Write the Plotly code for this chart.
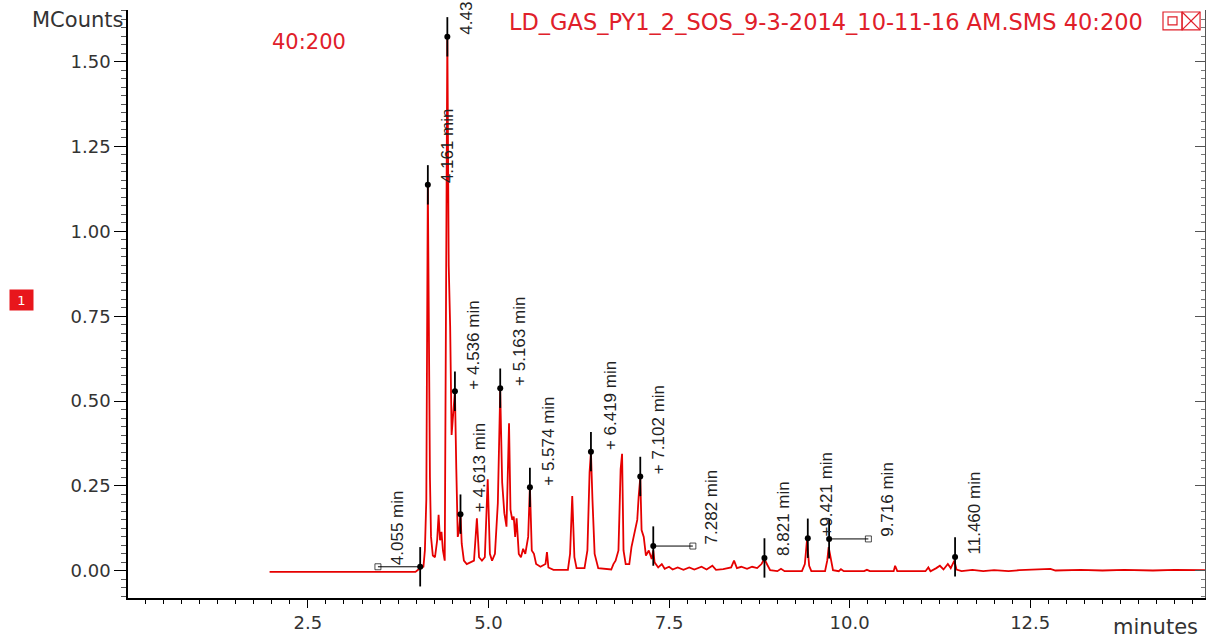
import plotly.graph_objects as go

# ---- chromatogram (retention time in minutes, intensity in MCounts) ----
rt = [1.97, 3.99, 4.03, 4.06, 4.10, 4.12, 4.14, 4.161, 4.175, 4.19, 4.205, 4.23, 4.26, 4.29, 4.31,
      4.33, 4.35, 4.37, 4.395, 4.415, 4.431, 4.45, 4.47, 4.49, 4.51, 4.536, 4.555, 4.575, 4.595,
      4.613, 4.63, 4.66, 4.70, 4.76, 4.80, 4.84, 4.87, 4.91, 4.95, 4.99, 5.02, 5.05, 5.09, 5.13,
      5.163, 5.19, 5.22, 5.25, 5.27, 5.285, 5.305, 5.33, 5.35, 5.37, 5.39, 5.42, 5.45, 5.48, 5.51,
      5.55, 5.574, 5.60, 5.63, 5.66, 5.72, 5.79, 5.81, 5.83, 5.90, 6.10, 6.13, 6.16, 6.19, 6.22,
      6.33, 6.37, 6.40, 6.419, 6.44, 6.47, 6.52, 6.70, 6.73, 6.76, 6.80, 6.83, 6.85, 6.87, 6.90,
      6.95, 6.98, 7.02, 7.06, 7.08, 7.102, 7.12, 7.15, 7.18, 7.22, 7.26, 7.282, 7.30, 7.35, 7.40,
      7.44, 7.50, 7.55, 7.62, 7.70, 7.78, 7.85, 7.95, 8.02, 8.10, 8.15, 8.25, 8.36, 8.40, 8.44,
      8.50, 8.58, 8.65, 8.72, 8.78, 8.82, 8.86, 8.90, 9.00, 9.05, 9.10, 9.34, 9.38, 9.41, 9.44,
      9.47, 9.66, 9.69, 9.71, 9.74, 9.77, 9.85, 9.88, 9.92, 10.20, 10.24, 10.28, 10.61, 10.63,
      10.66, 11.05, 11.09, 11.12, 11.20, 11.25, 11.30, 11.36, 11.40, 11.45, 11.48, 11.55, 11.70,
      11.85, 12.00, 12.20, 12.35, 12.60, 12.78, 12.85, 13.20, 13.50, 13.80, 14.20, 14.50, 14.92]
counts = [-0.003, -0.003, 0.004, 0.008, 0.012, 0.06, 0.21, 1.14, 0.50, 0.275, 0.10, 0.045, 0.04, 0.09, 0.165,
          0.09, 0.115, 0.06, 0.03, 0.80, 1.58, 0.90, 0.72, 0.40, 0.45, 0.53, 0.30, 0.10, 0.12,
          0.17, 0.08, 0.03, 0.02, 0.025, 0.03, 0.155, 0.04, 0.03, 0.04, 0.27, 0.05, 0.03, 0.05, 0.20,
          0.53, 0.26, 0.17, 0.13, 0.30, 0.435, 0.18, 0.15, 0.16, 0.10, 0.155, 0.05, 0.04, 0.065, 0.05,
          0.10, 0.25, 0.06, 0.05, 0.02, 0.012, 0.02, 0.055, 0.01, 0.003, 0.003, 0.05, 0.22, 0.04, 0.008,
          0.008, 0.06, 0.29, 0.35, 0.21, 0.05, 0.008, 0.004, 0.02, 0.03, 0.06, 0.30, 0.345, 0.06, 0.02,
          0.02, 0.07, 0.11, 0.15, 0.22, 0.275, 0.12, 0.10, 0.045, 0.06, 0.035, 0.06, 0.025, 0.01, 0.02,
          0.006, 0.012, 0.004, 0.01, 0.003, 0.01, 0.004, 0.012, 0.004, 0.015, 0.003, 0.005, 0.01, 0.03, 0.008,
          0.012, 0.006, 0.012, 0.008, 0.02, 0.035, 0.018, 0.002, -0.001, 0.006, -0.001, -0.001, 0.02, 0.09, 0.015,
          -0.001, -0.001, 0.03, 0.07, 0.035, 0.002, -0.001, 0.005, -0.001, -0.001, 0.003, -0.001, -0.001, 0.015,
          -0.001, -0.001, 0.01, -0.001, 0.008, 0.015, 0.004, 0.02, 0.008, 0.03, 0.004, -0.001, 0.003,
          -0.001, 0.002, -0.001, 0.002, 0.004, 0.006, 0.001, 0.003, 0.001, 0.003, 0.001, 0.003, 0.002]

# ---- labelled peaks ----
peak_rt = [4.055, 4.161, 4.431, 4.536, 4.613, 5.163, 5.574, 6.419, 7.102, 7.282, 8.821, 9.421, 9.716, 11.460]
peak_y = [0.012, 1.137, 1.573, 0.529, 0.167, 0.538, 0.246, 0.351, 0.278, 0.073, 0.038, 0.096, 0.094, 0.041]
peak_labels = ["4.055 min", "4.161 min", "4.43", "+ 4.536 min", "+ 4.613 min", "+ 5.163 min",
               "+ 5.574 min", "+ 6.419 min", "+ 7.102 min", "7.282 min", "8.821 min", "+9.421 min",
               "9.716 min", "11.460 min"]
# label anchor times (leader-line end where a leader exists)
label_rt = [3.47, 4.161, 4.431, 4.536, 4.613, 5.163, 5.574, 6.419, 7.102, 7.83, 8.821, 9.421, 10.26, 11.460]

x_ticks = [2.5, 5.0, 7.5, 10.0, 12.5]
y_ticks = [0.0, 0.25, 0.5, 0.75, 1.0, 1.25, 1.5]

RED = "#e60000"
fig = go.Figure()

fig.add_trace(go.Scatter(x=rt, y=counts, mode="lines",
                         line=dict(color=RED, width=1.8), showlegend=False, hoverinfo="skip"))

# leader lines
for pr, py, lr in zip(peak_rt, peak_y, label_rt):
    if abs(lr - pr) > 0.05:
        fig.add_trace(go.Scatter(x=[pr, lr], y=[py, py], mode="lines+markers",
                                 line=dict(color="black", width=1),
                                 marker=dict(symbol=["circle", "square-open"], size=[1, 6], color="black"),
                                 showlegend=False, hoverinfo="skip"))

# peak markers with vertical ticks
fig.add_trace(go.Scatter(x=peak_rt, y=peak_y, mode="markers",
                         marker=dict(color="black", size=6),
                         error_y=dict(type="constant", value=0.058, color="black", thickness=1.8, width=0),
                         showlegend=False, hoverinfo="skip"))

annotations = []
for lr, py, lab in zip(label_rt, peak_y, peak_labels):
    annotations.append(dict(x=lr, y=py, xref="x", yref="y", text=lab, textangle=-90,
                            showarrow=False, xanchor="center", yanchor="bottom", xshift=19,
                            font=dict(family="Liberation Sans, Arial", size=17, color="#222222")))

annotations += [
    dict(x=0.944, y=0.98, xref="paper", yref="paper", xanchor="right", yanchor="middle", showarrow=False,
         text="LD_GAS_PY1_2_SOS_9-3-2014_10-11-16 AM.SMS 40:200",
         font=dict(family="DejaVu Sans", size=22.5, color="#e0202a")),
    dict(x=0.132, y=0.946, xref="paper", yref="paper", xanchor="left", yanchor="middle", showarrow=False,
         text="40:200", font=dict(family="DejaVu Sans", size=21, color="#e0202a")),
    dict(x=-0.003, y=0.983, xref="paper", yref="paper", xanchor="right", yanchor="middle", showarrow=False,
         text="MCounts", font=dict(family="DejaVu Sans", size=21, color="#333333")),
    dict(x=0.9954, y=-0.049, xref="paper", yref="paper", xanchor="right", yanchor="middle", showarrow=False,
         text="minutes", font=dict(family="DejaVu Sans", size=21, color="#333333")),
    dict(x=-0.0993, y=0.506, xref="paper", yref="paper", xanchor="center", yanchor="middle", showarrow=False,
         text="1", bgcolor="#e8161c", borderpad=0, width=23, height=20,
         font=dict(family="DejaVu Sans", size=13, color="white")),
]

shapes = [
    dict(type="rect", xref="paper", yref="paper", x0=0.961, x1=0.9787, y0=0.9663, y1=0.9966,
         line=dict(color="#e0202a", width=1.2)),
    dict(type="rect", xref="paper", yref="paper", x0=0.9787, x1=0.9954, y0=0.9663, y1=0.9966,
         line=dict(color="#e0202a", width=1.2)),
    dict(type="rect", xref="paper", yref="paper", x0=0.9657, x1=0.9740, y0=0.9747, y1=0.9882,
         line=dict(color="#e0202a", width=1.2)),
    dict(type="line", xref="paper", yref="paper", x0=0.9787, x1=0.9954, y0=0.9663, y1=0.9966,
         line=dict(color="#e0202a", width=1.2)),
    dict(type="line", xref="paper", yref="paper", x0=0.9787, x1=0.9954, y0=0.9966, y1=0.9663,
         line=dict(color="#e0202a", width=1.2)),
]

tickfont = dict(family="DejaVu Sans", size=18, color="#333333")
fig.update_layout(
    width=1219, height=643,
    margin=dict(l=128, r=14, t=10, b=40),
    paper_bgcolor="white", plot_bgcolor="white",
    showlegend=False,
    annotations=annotations, shapes=shapes,
    xaxis=dict(range=[0.01, 14.92], showgrid=False, zeroline=False,
               showline=True, linecolor="black", linewidth=1.5,
               tickmode="array", tickvals=x_ticks, ticktext=[f"{v:.1f}" for v in x_ticks],
               ticks="outside", ticklen=8, tickwidth=1.2, tickcolor="black", tickfont=tickfont,
               minor=dict(dtick=0.25, tick0=0, ticks="outside", ticklen=4, tickwidth=1, tickcolor="black")),
    yaxis=dict(range=[-0.08, 1.652], showgrid=False, zeroline=False,
               showline=True, linecolor="black", linewidth=1.5,
               tickmode="array", tickvals=y_ticks, ticktext=[f"{v:.2f}" for v in y_ticks],
               ticks="outside", ticklen=12, tickwidth=1.2, tickcolor="black", tickfont=tickfont,
               minor=dict(dtick=0.025, tick0=0, ticks="outside", ticklen=5, tickwidth=1, tickcolor="#555555")),
    yaxis2=dict(range=[-0.08, 1.652], overlaying="y", side="right", showgrid=False, zeroline=False,
                showline=True, linecolor="#555555", linewidth=1, showticklabels=False,
                tickmode="array", tickvals=y_ticks, ticks="inside", ticklen=10, tickcolor="#555555",
                minor=dict(dtick=0.025, tick0=0, ticks="inside", ticklen=4, tickcolor="#777777")),
)
fig.add_trace(go.Scatter(x=[rt[0]], y=[counts[0]], yaxis="y2", mode="markers",
                         marker=dict(size=1, color="rgba(0,0,0,0)"), showlegend=False, hoverinfo="skip"))

fig.write_html("out.html")
